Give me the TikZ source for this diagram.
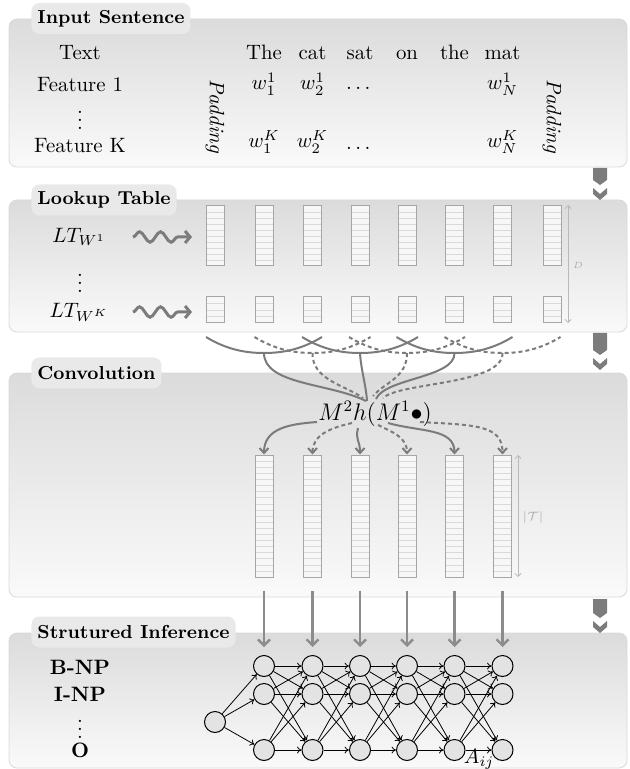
\RequirePackage{fix-cm}
\documentclass[tikz,border=0pt]{standalone}
\usepackage{amsmath}
\usepackage{fontspec}
\usetikzlibrary{arrows.meta,decorations.pathmorphing,calc}
\definecolor{blk}{HTML}{7C7C7C}
\definecolor{cln}{HTML}{7B7B7B}
\begin{document}
\begin{tikzpicture}[x=0.5pt,y=-0.5pt,
  every node/.style={font=\fontsize{10.4}{12.5}\selectfont},
  panel/.style={draw=gray!30,line width=0.4pt,rounded corners=4pt,top color=gray!28,bottom color=gray!4},
  tab/.style={fill=gray!17,rounded corners=4pt,inner xsep=3pt,inner ysep=0pt,minimum height=15.5pt,anchor=west,font=\fontsize{9.4}{11}\selectfont\bfseries},
  vecbox/.style={draw=gray!70,line width=0.5pt,fill=gray!6,minimum width=9pt,inner sep=0pt,
    path picture={\foreach \k in {1,...,#1}{\pgfmathsetmacro\fr{\k/(#1+1)}\draw[gray!30,line width=0.3pt]
      ($(path picture bounding box.north west)!\fr!(path picture bounding box.south west)$) -- ++(9pt,0);}}},
  ltbig/.style={vecbox=9,minimum height=30pt},
  ltsmall/.style={vecbox=3,minimum height=13pt},
  convbox/.style={vecbox=19,minimum height=61pt},
  snk/.style={draw=blk,line width=1.5pt,decorate,decoration={snake,segment length=10.5pt,amplitude=2.6pt,post length=7pt},-{Straight Barb[length=2.5pt,width=6pt]}},
  conn/.style={draw=cln,line width=1pt},
  sld/.style={solid},
  dsh/.style={dash pattern=on 2pt off 1.5pt},
  carrow/.style={-{Straight Barb[length=2.5pt,width=4.5pt]}},
  vline/.style={draw=gray!90,line width=1.2pt,-{Straight Barb[length=3pt,width=6pt]},shorten >=4pt},
  dimline/.style={draw=gray!55,line width=0.4pt,{Straight Barb[length=1.5pt,width=3pt]}-{Straight Barb[length=1.5pt,width=3pt]}},
  dimlab/.style={text=gray!65,inner sep=1pt},
  netnode/.style={circle,draw=black,line width=0.5pt,fill=gray!22,minimum size=10.5pt,inner sep=0pt},
  netedge/.style={line width=0.4pt,-{To[length=2.2pt,width=3.4pt]}},
  lab/.style={anchor=base},
  bflab/.style={font=\fontsize{10.4}{12.5}\selectfont\bfseries},
  pad/.style={rotate=-90,font=\fontsize{10.4}{12.5}\selectfont\itshape},
]
\useasboundingbox (0,0) rectangle (629,769);
% panels
\path[panel] (9,19) rectangle (627,167);
\path[panel] (9,200) rectangle (627,332);
\path[panel] (9,373) rectangle (627,597);
\path[panel] (9,633) rectangle (627,768);
\node[tab] (t1) at (31,18.5) {Input Sentence};
\node[tab] (t2) at (31,200) {Lookup Table};
\node[tab] (t3) at (31,373) {Convolution};
\node[tab] (t4) at (31,632) {Strutured Inference};
% block arrows between panels
\foreach \t/\b in {168/200,333/370,599/633}{
  \fill[blk] (593,\t) -- (607,\t) -- (607,{\b-20}) -- (600,{\b-15}) -- (593,{\b-20}) -- cycle;
  \fill[blk] (593,{\b-12}) -- (600,{\b-6}) -- (607,{\b-12}) -- (607,{\b-6}) -- (600,\b) -- (593,{\b-6}) -- cycle;
}
% ---------- Input sentence ----------
\node[lab] (txt) at (80,60) {Text};
\node[lab] (f1) at (80,92) {Feature 1};
\node (fd) at (80,114) {$\vdots$};
\node[lab] (fk) at (80,153) {Feature K};
\node[pad] (padl) at (215,116) {Padding};
\node[pad] (padr) at (552,116) {Padding};
\foreach \w/\x [count=\i] in {The/264,cat/312.5,sat/360,on/407,the/454.5,mat/502.5}
  \node[lab] (word\i) at (\x,60) {\w};
\node[lab] (a1) at (264,90) {$w_1^1$};
\node[lab] (a2) at (312.5,90) {$w_2^1$};
\node[lab] (a3) at (360,90) {$\dots$};
\node[lab] (a4) at (502.5,90) {$w_N^1$};
\node[lab] (b1) at (264,148) {$w_1^K$};
\node[lab] (b2) at (312.5,148) {$w_2^K$};
\node[lab] (b3) at (360,150) {$\dots$};
\node[lab] (b4) at (502.5,148) {$w_N^K$};
% ---------- Lookup table ----------
\node (ltw1) at (79,237) {$LT_{W^1}$};
\node (ltd) at (80,277) {$\vdots$};
\node (ltwk) at (79,312) {$LT_{W^K}$};
\coordinate (sa1) at (133,237); \coordinate (sb1) at (192,237);
\coordinate (sa2) at (133,312); \coordinate (sb2) at (192,312);
\draw[snk] (sa1) -- (sb1);
\draw[snk] (sa2) -- (sb2);
\foreach \x [count=\i] in {215,264,312.5,360,407,454.5,502.5,552}{
  \node[ltbig] (v\i) at (\x,236) {};
  \node[ltsmall] (u\i) at (\x,310) {};
}
\coordinate (dtop) at (568,205); \coordinate (dbot) at (568,323);
\draw[dimline] (dtop) -- (dbot);
\node[dimlab,font=\fontsize{4.5}{5}\selectfont] (dlab) at (578,265) {$D$};
% ---------- Convolution ----------
\node[anchor=base west,inner sep=0pt,font=\fontsize{12}{14}\selectfont] (fn) at (318,420) {$M^2h(M^1\bullet)$};
\foreach \x [count=\i] in {264,312.5,360,407,454.5,502.5}
  \node[convbox] (c\i) at (\x,516) {};
\coordinate (ttop) at (518,455); \coordinate (tbot) at (518,577);
\draw[dimline] (ttop) -- (tbot);
\node[dimlab,font=\fontsize{6}{7}\selectfont] (tlab) at (533,517) {$|\mathcal{T}|$};
% windows of three columns joining into the function
\foreach \c/\tx/\ty/\ax/\ay/\bx/\by/\st [count=\i] in
  {264/366/401/264/385/330/383/sld,
   312.5/363/398/312/380/345/385/dsh,
   360/367/401/361/370/366/385/sld,
   407/373/396/407/378/385/382/dsh,
   454.5/376/399/455/378/385/378/sld,
   502.5/383/398/503/385/400/382/dsh}{
  \coordinate (wl\i) at ({\c-58},337);
  \coordinate (wj\i) at (\c,353);
  \coordinate (wr\i) at ({\c+58},337);
  \coordinate (fi\i) at (\tx,\ty);
  \draw[conn,\st] (wl\i) .. controls ({\c-35},351) and ({\c-15},353) .. (wj\i)
        .. controls ({\c+15},353) and ({\c+35},351) .. (wr\i);
  \draw[conn,\st] (wj\i) .. controls (\ax,\ay) and (\bx,\by) .. (fi\i);
}
% outputs of the function to the convolution vectors
\foreach \sx/\sy/\ax/\ay/\bx/\by/\st [count=\i] in
  {317/422/290/424/264/428/sld,
   352/423/330/428/312.5/435/dsh,
   358/428/355/440/360/440/sld,
   378/425/392/432/407/437/dsh,
   388/423/420/432/454.5/428/sld,
   420/422/475/425/502.5/425/dsh}{
  \coordinate (fo\i) at (\sx,\sy);
  \draw[conn,carrow,\st] (fo\i) .. controls (\ax,\ay) and (\bx,\by) .. (c\i.north);
}
% ---------- Structured inference ----------
\node[bflab] (bnp) at (80,667) {B-NP};
\node[bflab] (inp) at (80,694) {I-NP};
\node (idots) at (80,723) {$\vdots$};
\node[bflab] (onp) at (80,750) {O};
\node[netnode] (s) at (215,722) {};
\foreach \x [count=\j] in {264,312.5,360,407,454.5,502.5}{
  \node[netnode] (n\j-1) at (\x,666) {};
  \node[netnode] (n\j-2) at (\x,694) {};
  \node[netnode] (n\j-3) at (\x,750) {};
}
\foreach \r in {1,2,3} \draw[netedge] (s) -- (n1-\r);
\foreach \j in {1,...,5}{
  \pgfmathtruncatemacro\jn{\j+1}
  \foreach \r in {1,2,3}{\foreach \q in {1,2,3}{\draw[netedge] (n\j-\r) -- (n\jn-\q);}}
}
\foreach \i in {1,...,6} \draw[vline] ([yshift=-6.5pt]c\i.south) -- (n\i-1);
\node (aij) at (479,759) {$A_{ij}$};
\end{tikzpicture}
\end{document}
